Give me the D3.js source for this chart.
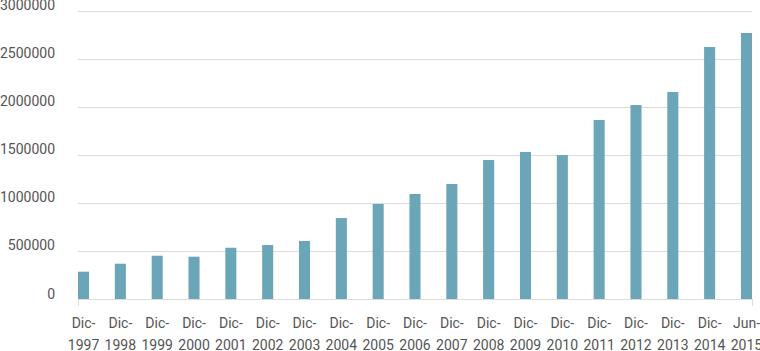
<!DOCTYPE html>
<html>
<head>
<meta charset="utf-8">
<script src="https://cdn.jsdelivr.net/npm/d3@7"></script>
<style>
  body { margin: 0; background: #fff; }
  text { font-family: Roboto, "Noto Sans", sans-serif; font-size: 14px; fill: #555; }
</style>
</head>
<body>
<div id="container"></div>
<script>
let categories = ["Dic-1997", "Dic-1998", "Dic-1999", "Dic-2000", "Dic-2001", "Dic-2002",
  "Dic-2003", "Dic-2004", "Dic-2005", "Dic-2006", "Dic-2007", "Dic-2008", "Dic-2009",
  "Dic-2010", "Dic-2011", "Dic-2012", "Dic-2013", "Dic-2014", "Jun-2015"];
let values = [284000, 367000, 450000, 440000, 533000, 561000, 603000, 842000, 988000,
  1092000, 1196000, 1445000, 1529000, 1497000, 1861000, 2017000, 2152000, 2620000, 2766000];
let yTicks = [0, 500000, 1000000, 1500000, 2000000, 2500000, 3000000];

let w = 760;
let h = 351;
let xLeft = 78;
let xRight = 752;
let yTop = 10.5;
let yBottom = 299;

let viz = d3.select("#container")
  .append("svg")
    .attr("width", w)
    .attr("height", h)
;

let xScale = d3.scaleBand().domain(categories).range([xLeft, xRight])
  .paddingInner(0.7).paddingOuter(0);
let yScale = d3.scaleLinear().domain([0, 3000000]).range([yBottom, yTop]);

// gridlines + y labels
let grid = viz.append("g");
grid.selectAll("line").data(yTicks).enter()
  .append("line")
    .attr("x1", xLeft)
    .attr("x2", xRight)
    .attr("y1", function(d){ return Math.round(yScale(d)) + 0.5; })
    .attr("y2", function(d){ return Math.round(yScale(d)) + 0.5; })
    .attr("stroke", "#dcdcdc")
    .attr("stroke-width", 1)
;
grid.selectAll("text").data(yTicks).enter()
  .append("text")
    .attr("x", 55)
    .attr("y", function(d){ return yScale(d) - 0.5; })
    .attr("text-anchor", "end")
    .text(function(d){ return d; })
;

// end ticks on the base line
viz.selectAll(".endtick").data([xLeft, xRight]).enter()
  .append("line")
    .attr("class", "endtick")
    .attr("x1", function(d){ return d + 0.5; })
    .attr("x2", function(d){ return d + 0.5; })
    .attr("y1", yBottom)
    .attr("y2", yBottom + 7)
    .attr("stroke", "#dcdcdc")
;

// bars
viz.append("g").selectAll("rect").data(values).enter()
  .append("rect")
    .attr("x", function(d, i){ return xScale(categories[i]); })
    .attr("y", function(d){ return yScale(d); })
    .attr("width", xScale.bandwidth())
    .attr("height", function(d){ return yBottom - yScale(d); })
    .attr("fill", "#6aa5b8")
;

// x labels, two lines
let xl = viz.append("g").selectAll("text").data(categories).enter()
  .append("text")
    .attr("text-anchor", "middle")
    .attr("transform", function(d){
      return "translate(" + (xScale(d) + xScale.bandwidth() / 2) + ",0)";
    })
;
xl.append("tspan").attr("x", 0).attr("y", 328)
  .text(function(d){ return d.split("-")[0] + "-"; });
xl.append("tspan").attr("x", 0).attr("y", 349.5)
  .text(function(d){ return d.split("-")[1]; });
</script>
</body>
</html>
